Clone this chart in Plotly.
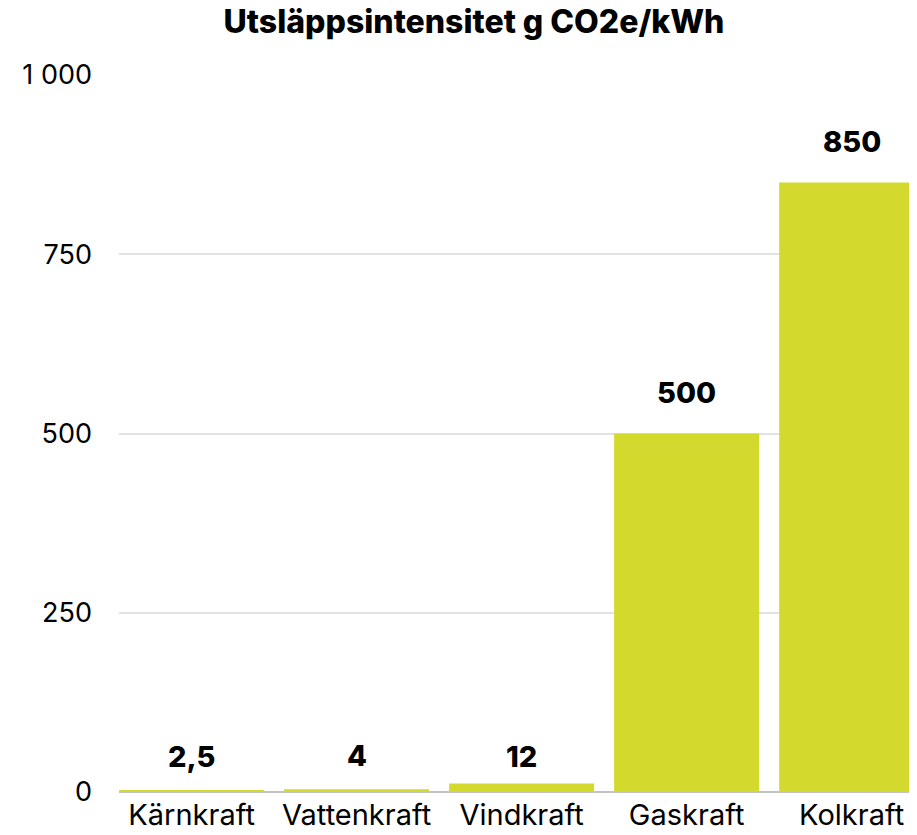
import plotly.graph_objects as go

categories = ["Kärnkraft", "Vattenkraft", "Vindkraft", "Gaskraft", "Kolkraft"]
values = [2.5, 4, 12, 500, 850]
value_labels = ["2,5", "4", "12", "500", "850"]
tick_vals = [0, 250, 500, 750, 1000]
tick_text = ["0", "250", "500", "750", "1 000"]
title_text = "Utsläppsintensitet g CO2e/kWh"

BAR = "#D4D92E"
FONT = "Inter"
W, H = 909, 827  # page body adds an 8px offset
PLOT_H = H - 67 - 43
PX_PER_UNIT = PLOT_H / 1000.0
LABEL_GAP = 41      # label centre above bar top (px)
LABEL_MIN = 36      # minimum label centre above the baseline (px)

fig = go.Figure()
fig.add_trace(go.Bar(
    x=list(range(len(categories))), y=values,
    marker=dict(color=BAR, line=dict(width=0)),
    width=0.879,
    hoverinfo="skip",
))

for i, (v, lab) in enumerate(zip(values, value_labels)):
    bar_px = v * PX_PER_UNIT
    shift = LABEL_GAP if bar_px + LABEL_GAP > LABEL_MIN + 40 else LABEL_MIN - bar_px
    fig.add_annotation(
        x=i, y=v, text=lab, showarrow=False,
        yanchor="middle", yshift=shift,
        font=dict(family=FONT, size=29, color="#000000", weight=800),
    )

fig.update_layout(
    width=W, height=H,
    margin=dict(l=111, r=0, t=67, b=43),
    paper_bgcolor="white", plot_bgcolor="white",
    showlegend=False,
    title=dict(
        text=title_text,
        x=466 / W, xanchor="center", xref="container",
        y=1 - 14 / H, yanchor="middle", yref="container",
        font=dict(family=FONT, size=32, color="#000000", weight=800),
    ),
    xaxis=dict(
        range=[-0.44, 4.396],
        tickmode="array", tickvals=list(range(len(categories))), ticktext=categories,
        showgrid=False, zeroline=False, showline=False, ticks="",
        tickfont=dict(family=FONT, size=29, color="#000000"),
        ticklabelstandoff=3,
        fixedrange=True,
    ),
    yaxis=dict(
        range=[0, 1000],
        tickmode="array", tickvals=tick_vals, ticktext=tick_text,
        showgrid=True, gridcolor="#E2E2E2", gridwidth=1.5,
        zeroline=True, zerolinecolor="#C4C4C4", zerolinewidth=1.5,
        showline=False, ticks="",
        tickfont=dict(family=FONT, size=27, color="#000000"),
        ticklabelstandoff=26,
        fixedrange=True,
    ),
)

fig.write_html("out.html")
